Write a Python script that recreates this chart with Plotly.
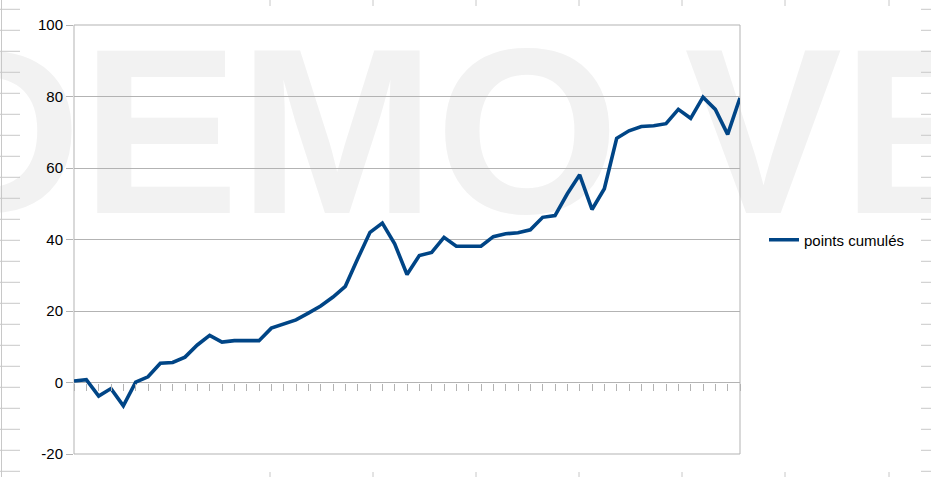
import plotly.graph_objects as go

# ---- data ----
categories = list(range(1, 56))
points_cumules = [0.4, 0.8, -3.8, -1.7, -6.5, 0.1, 1.6, 5.4, 5.6, 7.1,
                  10.5, 13.2, 11.3, 11.7, 11.7, 11.7, 15.2, 16.4, 17.5, 19.4,
                  21.4, 23.9, 26.9, 34.6, 42.0, 44.6, 38.8, 30.2, 35.5, 36.4,
                  40.6, 38.1, 38.1, 38.1, 40.8, 41.6, 41.9, 42.7, 46.2, 46.7,
                  52.8, 58.1, 48.4, 54.2, 68.3, 70.4, 71.6, 71.8, 72.4, 76.4,
                  73.9, 79.8, 76.4, 69.4, 79.6]
y_ticks = [-20, 0, 20, 40, 60, 80, 100]
y_tick_labels = ["-20", "0", "20", "40", "60", "80", "100"]
series_name = "points cumulés"

# ---- geometry ----
W, H = 931, 477
L, R, T, B = 74, 740, 25, 454


def px(x):
    return (x - L) / (R - L)


def py(y):
    return (B - y) / (B - T)


GRID = "#b3b3b3"
LINE = "#004586"
FONT = "Liberation Sans, Arial, sans-serif"

fig = go.Figure()
fig.add_trace(go.Scatter(
    x=categories, y=points_cumules, mode="lines", name=series_name,
    line=dict(color=LINE, width=3.6), cliponaxis=False, hoverinfo="skip",
))

shapes = []
# watermark
shapes.append(dict(
    type="rect", xref="paper", yref="paper", layer="below",
    x0=px(-92), x1=px(1300), y0=py(139), y1=py(79),
    line=dict(width=0), fillcolor="rgba(0,0,0,0)",
    label=dict(text="DEMO VERSION", textposition="middle left",
               font=dict(family="Liberation Sans, Arial", size=236, color="#f2f2f2",
                         weight="bold"),
               padding=0),
))
# plot border
shapes.append(dict(type="rect", xref="paper", yref="paper", layer="below",
                   x0=0, x1=1, y0=0, y1=1, line=dict(color=GRID, width=1)))
# spreadsheet background hints
SG = "#c8c8c8"
k = 0
while 9.3 + 21 * k < H:
    yy = 9.3 + 21 * k
    shapes.append(dict(type="line", xref="paper", yref="paper", layer="below",
                       x0=px(0), x1=px(20), y0=py(yy), y1=py(yy),
                       line=dict(color=SG, width=1)))
    shapes.append(dict(type="line", xref="paper", yref="paper", layer="below",
                       x0=px(921), x1=px(931), y0=py(yy), y1=py(yy),
                       line=dict(color=SG, width=1)))
    k += 1
shapes.append(dict(type="line", xref="paper", yref="paper", layer="below",
                   x0=px(1.5), x1=px(1.5), y0=py(0), y1=py(H),
                   line=dict(color=SG, width=1)))
for cx in [270, 373, 476, 579, 682, 785, 889]:
    shapes.append(dict(type="line", xref="paper", yref="paper", layer="below",
                       x0=px(cx), x1=px(cx), y0=py(0), y1=py(6),
                       line=dict(color=SG, width=1)))
    shapes.append(dict(type="line", xref="paper", yref="paper", layer="below",
                       x0=px(cx), x1=px(cx), y0=py(472), y1=py(H),
                       line=dict(color=SG, width=1)))

fig.update_layout(
    width=W, height=H,
    margin=dict(l=L, r=W - R, t=T, b=H - B, pad=0),
    paper_bgcolor="white", plot_bgcolor="white",
    font=dict(family=FONT, size=15, color="#000000"),
    shapes=shapes,
    showlegend=True,
    hovermode=False,
    legend=dict(x=px(764), y=py(240), xanchor="left", yanchor="middle",
                font=dict(size=15, color="#000000"), bgcolor="rgba(0,0,0,0)",
                itemwidth=30),
    xaxis=dict(range=[1, 55], anchor="free", position=1 / 6,
               tickmode="array", tickvals=categories, showticklabels=False,
               ticks="outside", ticklen=7, tickcolor=GRID, tickwidth=1,
               showgrid=False, zeroline=False, showline=False),
    yaxis=dict(range=[-20, 100], tickmode="array", tickvals=y_ticks,
               ticktext=y_tick_labels,
               ticks="outside", ticklen=7, tickcolor=GRID, tickwidth=1,
               showgrid=True, gridcolor=GRID, gridwidth=1,
               zeroline=True, zerolinecolor=GRID, zerolinewidth=1,
               showline=False, ticklabelstandoff=0),
)

fig.write_html("out.html", config={"displayModeBar": False, "staticPlot": True},
               post_script="document.body.style.margin='0';document.body.style.overflow='hidden';")
